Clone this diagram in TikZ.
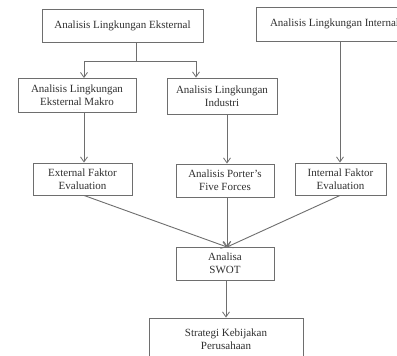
\documentclass[tikz,border=0pt]{standalone}
\usepackage{fontspec}
\setmainfont{Liberation Serif}
\usetikzlibrary{arrows.meta}
\definecolor{ln}{HTML}{6E6E6E}
\definecolor{tx}{HTML}{303030}
\tikzset{
  box/.style={draw=ln, line width=0.9pt, fill=white, align=center, inner sep=0pt,
    text=tx, font=\fontsize{11}{13}\selectfont},
  conn/.style={draw=ln, line width=0.9pt},
  arr/.style={conn, -{Straight Barb[length=5pt,width=7pt,line width=0.8pt]}}
}
\begin{document}
\begin{tikzpicture}[x=1pt,y=-1pt]
\useasboundingbox (0,0) rectangle (397,356);
\clip (0,0) rectangle (397,356);
\fill[white] (0,0) rectangle (397,356);
% boxes
\node[box, minimum width=161, minimum height=33] (ext0) at (122.5,25.5) {Analisis Lingkungan Eksternal};
\node[box, minimum width=157, minimum height=34] (int0) at (334.5,24) {Analisis Lingkungan Internal};
\node[box, minimum width=118, minimum height=34] (makro) at (77,95.5) {Analisis Lingkungan\\Eksternal Makro};
\node[text=ln, inner sep=0pt, font=\fontsize{4}{4}\selectfont] (dots) at (77,110.5) {.\ \ .\ \ .};
\node[box, minimum width=110, minimum height=36] (ind) at (222,96) {Analisis Lingkungan\\Industri};
\node[box, minimum width=99, minimum height=32] (efe) at (82.5,179) {External Faktor\\Evaluation};
\node[box, minimum width=98, minimum height=33] (porter) at (225,180.5) {Analisis Porter's\\Five Forces};
\node[box, minimum width=91, minimum height=32] (ife) at (340.5,179) {Internal Faktor\\Evaluation};
\node[box, minimum width=98, minimum height=33] (swot) at (225,263.5) {Analisa\\SWOT};
\node[box, minimum width=154, minimum height=42] (strat) at (226,339) {Strategi Kebijakan\\Perusahaan};
% junction coordinates
\coordinate (jm) at (136,61);
\coordinate (jl) at (84,61);
\coordinate (jr) at (196,61);
\coordinate (xi) at (227,0);
\coordinate (xint) at (340,0);
\coordinate (sw) at (227,247);
% connectors
\draw[conn] (ext0.south -| jm) -- (jm);
\draw[conn] (jl) -- (jr);
\draw[arr] (jl) -- (jl |- makro.north);
\draw[arr] (jr) -- (jr |- ind.north);
\draw[arr] (makro.south -| jl) -- (jl |- efe.north);
\draw[arr] (ind.south -| xi) -- (xi |- porter.north);
\draw[arr] (int0.south -| xint) -- (xint |- ife.north);
\draw[arr] (efe.south -| jl) -- (sw);
\draw[arr] (porter.south -| sw) -- (sw);
\draw[arr] (ife.south -| xint) -- (sw);
\draw[arr] (swot.south -| 226,0) -- (strat.north -| 226,0);
\end{tikzpicture}
\end{document}
